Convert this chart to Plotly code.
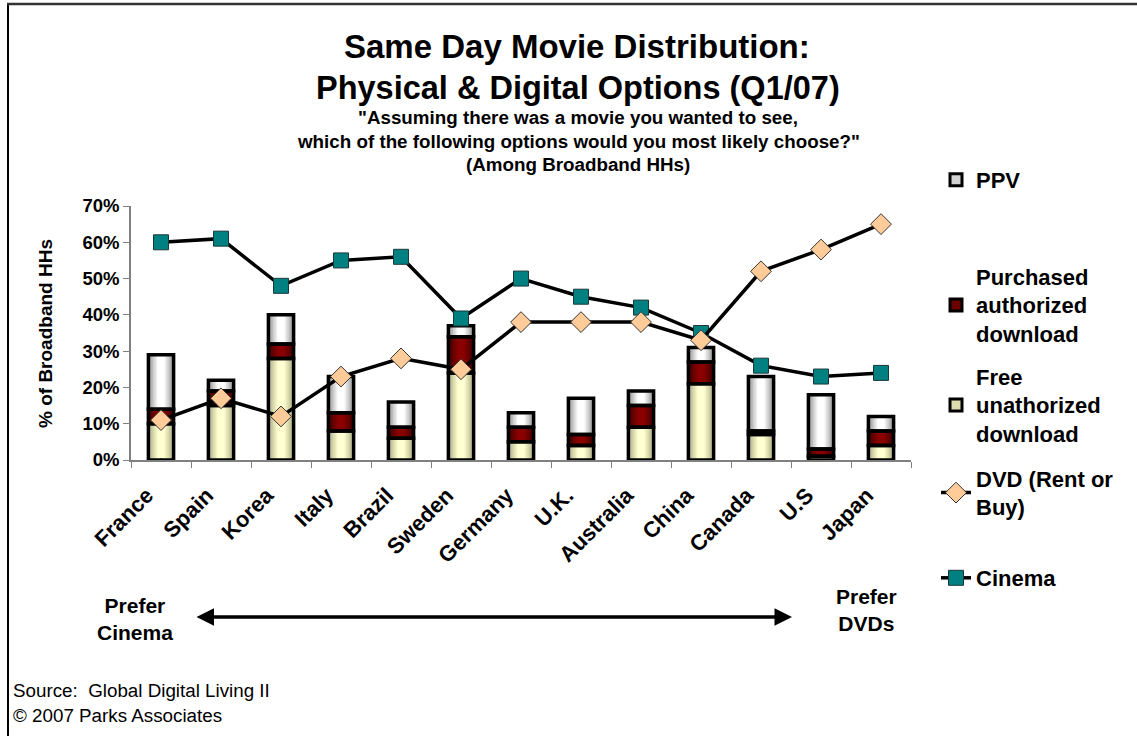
import plotly.graph_objects as go
import numpy as np

countries = ["France", "Spain", "Korea", "Italy", "Brazil", "Sweden", "Germany",
             "U.K.", "Australia", "China", "Canada", "U.S", "Japan"]
free_unauth = [10, 15, 28, 8, 6, 24, 5, 4, 9, 21, 7, 1, 4]
purchased = [4, 4, 4, 5, 3, 10, 4, 3, 6, 6, 1, 2, 4]
ppv = [15, 3, 8, 10, 7, 3, 4, 10, 4, 4, 15, 15, 4]
dvd = [11, 17, 12, 23, 28, 25, 38, 38, 38, 33, 52, 58, 65]
cinema = [60, 61, 48, 55, 56, 39, 50, 45, 42, 35, 26, 23, 24]

W, H = 1137, 736
FONT = "Arial, Liberation Sans, sans-serif"

def px_x(x):
    return x / W

def px_y(y):
    return 1 - y / H

free_a = np.array(free_unauth, float)
pur_a = np.array(purchased, float)
ppv_a = np.array(ppv, float)
bases = [np.zeros(len(countries)), free_a, free_a + pur_a]
segments = [
    ("Free<br>unathorized<br>download", free_a, ("#a8a880", "#ffffd2"), "legend3"),
    ("Purchased<br>authorized<br>download", pur_a, ("#3a0000", "#8a0000"), "legend2"),
    ("PPV", ppv_a, ("#8c8c8c", "#ffffff"), "legend"),
]

def mix(c1, c2, t):
    a = [int(c1[i:i + 2], 16) for i in (1, 3, 5)]
    b = [int(c2[i:i + 2], 16) for i in (1, 3, 5)]
    return "#%02x%02x%02x" % tuple(round(a[k] + (b[k] - a[k]) * t) for k in range(3))

fig = go.Figure()
BW = 0.42
widths = [0.42, 0.37, 0.32, 0.27, 0.22, 0.17, 0.12]
for (name, vals, (edge, center), lg), base in zip(segments, bases):
    for i, w in enumerate(widths):
        t = i / (len(widths) - 1)
        fig.add_trace(go.Bar(
            x=countries, y=vals, base=base, width=w,
            marker=dict(color=mix(edge, center, t ** 0.8), line=dict(width=0)),
            showlegend=False, hoverinfo="skip"))
for (name, vals, (edge, center), lg), base in zip(segments, bases):
    fig.add_trace(go.Bar(
        x=countries, y=vals, base=base, width=BW, name=name,
        marker=dict(color="rgba(0,0,0,0)", line=dict(width=3.5, color="black")),
        showlegend=False))

# legend-only bar entries (zero height, hidden under the bars)
for (name, vals, (edge, center), lg) in segments:
    fig.add_trace(go.Bar(
        x=[countries[0]], y=[0], base=[0], width=0.01, name=name, legend=lg,
        marker=dict(color=mix(edge, center, 0.6), line=dict(width=3, color="black"))))

fig.add_trace(go.Scatter(
    x=countries, y=cinema, name="Cinema", mode="lines+markers", legend="legend5",
    line=dict(color="black", width=3.5),
    marker=dict(symbol="square", size=15, color="#008080",
                line=dict(color="#1a3a3a", width=1))))
fig.add_trace(go.Scatter(
    x=countries, y=dvd, name="DVD (Rent or<br>Buy)", mode="lines+markers", legend="legend4",
    line=dict(color="black", width=3.5),
    marker=dict(symbol="diamond", size=16, color="#ffcc99",
                line=dict(color="#333333", width=1))))

x0, x1 = px_x(131), px_x(911)
y0, y1 = px_y(460), px_y(206)

lfont = dict(family=FONT, size=22, color="black", weight="bold")
leg_common = dict(x=px_x(936), xanchor="left", yanchor="middle", font=lfont,
                  bgcolor="rgba(0,0,0,0)", itemwidth=30, tracegroupgap=0)
fig.update_layout(
    legend=dict(y=px_y(180), **leg_common),
    legend2=dict(y=px_y(305), **leg_common),
    legend3=dict(y=px_y(405), **leg_common),
    legend4=dict(y=px_y(493), **leg_common),
    legend5=dict(y=px_y(578), **leg_common),
)

fig.update_layout(
    width=W, height=H, autosize=False,
    margin=dict(l=0, r=0, t=0, b=0),
    paper_bgcolor="white", plot_bgcolor="white",
    barmode="overlay", bargap=0.5,
    font=dict(family=FONT, color="black"),
    xaxis=dict(domain=[x0, x1], type="category", tickangle=-45,
               range=[-0.5, len(countries) - 0.5],
               tickfont=dict(family=FONT, size=22, color="black", weight="bold"),
               ticklabelstandoff=12, ticklabelshift=-14,
               showline=True, linecolor="#808080", linewidth=1.5,
               ticks="outside", ticklen=6, tickcolor="#808080", tickson="boundaries",
               showgrid=False, automargin=False, fixedrange=True),
    yaxis=dict(domain=[y0, y1], range=[0, 70], dtick=10, ticksuffix="%",
               tickfont=dict(family=FONT, size=18.5, color="black", weight="bold"),
               showline=True, linecolor="#808080", linewidth=1.5,
               ticks="outside", ticklen=6, tickcolor="#808080",
               showgrid=False, zeroline=False, automargin=False, fixedrange=True),
    showlegend=True,
)

ann = []
def text(x, y, s, size, bold=True, xanchor="center", yanchor="middle", align="center", angle=0):
    ann.append(dict(x=px_x(x), y=px_y(y), xref="paper", yref="paper", text=s,
                    showarrow=False, xanchor=xanchor, yanchor=yanchor, align=align,
                    textangle=angle,
                    font=dict(family=FONT, size=size, color="black",
                              weight="bold" if bold else "normal")))

text(577, 46, "Same Day Movie Distribution:", 33)
text(578, 87.5, "Physical & Digital Options (Q1/07)", 32.5)
text(578, 117.5, "\"Assuming there was a movie you wanted to see,", 18.8)
text(578, 141, "which of the following options would you most likely choose?\"", 18.8)
text(578, 164.5, "(Among Broadband HHs)", 18.8)
text(45, 334, "% of Broadband HHs", 19, angle=-90)
text(135, 619, "Prefer<br>Cinema", 21)
text(866, 610, "Prefer<br>DVDs", 21)
text(11, 690, "Source:  Global Digital Living II", 18.8, bold=False, xanchor="left")
text(11, 715, "© 2007 Parks Associates", 18.8, bold=False, xanchor="left")

ann.append(dict(x=px_x(792), y=px_y(617), xref="paper", yref="paper",
                ax=-597, ay=0, axref="pixel", ayref="pixel", text="",
                showarrow=True, arrowhead=2, arrowsize=1, arrowwidth=3.5,
                arrowcolor="black", arrowside="end+start"))
fig.update_layout(annotations=ann)

fig.update_layout(shapes=[
    dict(type="line", xref="paper", yref="paper", x0=px_x(8), x1=px_x(8),
         y0=px_y(4), y1=0, line=dict(color="black", width=2)),
    dict(type="line", xref="paper", yref="paper", x0=px_x(7), x1=1,
         y0=px_y(4), y1=px_y(4), line=dict(color="#333333", width=2.5)),
])

fig.write_html("out.html")
